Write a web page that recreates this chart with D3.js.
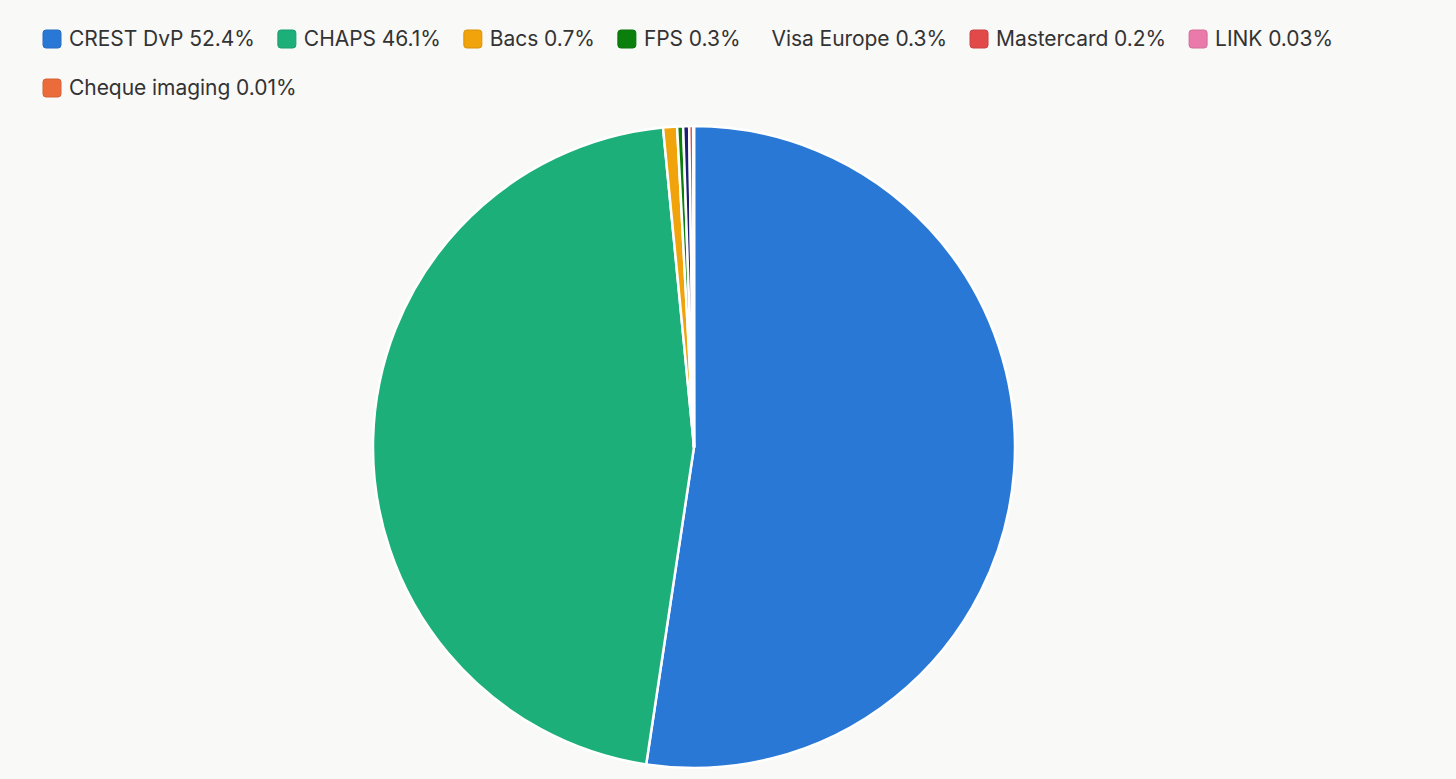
<!DOCTYPE html>
<html>
<head>
<meta charset="utf-8">
<script src="https://cdn.jsdelivr.net/npm/d3@7"></script>
<style>
  body { margin: 0; background: #f9f9f8; }
  svg { display: block; }
</style>
</head>
<body>
<div class="canvas"></div>
<script>
// data
const names = ['CREST DvP', 'CHAPS', 'Bacs', 'FPS', 'Visa Europe', 'Mastercard', 'LINK', 'Cheque imaging']
const shares = [52.4, 46.1, 0.7, 0.3, 0.3, 0.2, 0.03, 0.01]
const shareLabels = ['52.4%', '46.1%', '0.7%', '0.3%', '0.3%', '0.2%', '0.03%', '0.01%']
const colours = ['#2a78d6', '#1caf7a', '#f0a30a', '#0b7f0b', '#1a1f71', '#e24a4a', '#ea7aa9', '#ec6b3a']
// visa has no swatch in the legend
const showSwatch = [true, true, true, true, false, true, true, true]

const dims = {width: 1456, height: 779}
const cent = {x: 694, y: 447}
const radius = 321

const data = names.map((n, i) => ({name: n, value: shares[i], label: shareLabels[i], colour: colours[i], swatch: showSwatch[i]}))

const svg = d3.select('.canvas')
    .append('svg')
    .attr('width', dims.width)
    .attr('height', dims.height)

svg.append('rect')
    .attr('width', dims.width)
    .attr('height', dims.height)
    .attr('fill', '#f9f9f8')

//pie
const pie = d3.pie()
    .sort(null)
    .value(d => d.value)

const arcPath = d3.arc()
    .outerRadius(radius)
    .innerRadius(0)

const graph = svg.append('g')
    .attr('transform', `translate(${cent.x}, ${cent.y})`)

graph.selectAll('path')
    .data(pie(data))
    .enter()
    .append('path')
    .attr('d', arcPath)
    .attr('fill', d => d.data.colour)
    .attr('stroke', '#fff')
    .attr('stroke-width', 2.5)
    .attr('stroke-linejoin', 'round')

//legend, flows left to right and wraps
const legend = svg.append('g')
    .attr('font-family', 'Inter, "Noto Sans", sans-serif')
    .attr('font-size', 21)
    .attr('fill', '#333')

const leg = {x0: 43, y0: 39, swatch: 18, textGap: 8, noSwatchGap: 8, itemGap: 23, rowH: 49, maxX: 1400}
let x = leg.x0, y = leg.y0

data.forEach(d => {
    const item = legend.append('g')
    const tx = d.swatch ? leg.swatch + leg.textGap : leg.noSwatchGap
    const text = item.append('text')
        .attr('x', tx)
        .attr('dy', '0.35em')
        .attr('letter-spacing', -0.05)
        .text(`${d.name} ${d.label}`)
    const w = tx + text.node().getComputedTextLength()
    if (x + w > leg.maxX) { x = leg.x0; y += leg.rowH }
    if (d.swatch) {
        item.append('rect')
            .attr('y', -leg.swatch / 2)
            .attr('width', leg.swatch)
            .attr('height', leg.swatch)
            .attr('rx', 3)
            .attr('fill', d.colour)
            .attr('stroke', d3.color(d.colour).darker(0.3))
            .attr('stroke-width', 1)
    }
    item.attr('transform', `translate(${x}, ${y})`)
    x += w + leg.itemGap
})
</script>
</body>
</html>
